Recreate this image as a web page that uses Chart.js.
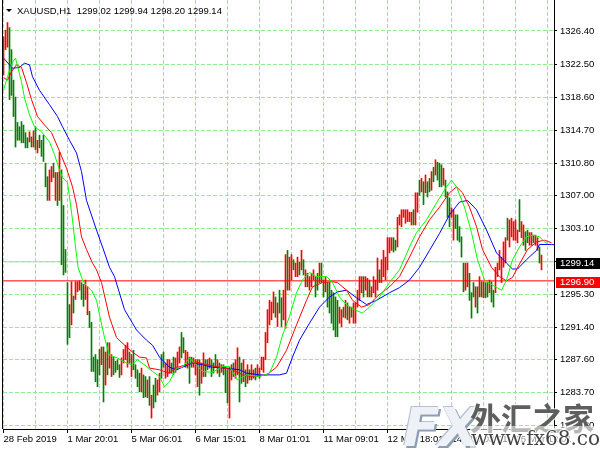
<!DOCTYPE html>
<html>
<head>
<meta charset="utf-8">
<title>XAUUSD,H1</title>
<script src="https://cdn.jsdelivr.net/npm/chart.js@4.4.1/dist/chart.umd.min.js"></script>
<style>
  html, body { margin: 0; padding: 0; background: #fff; }
  #wrap { position: relative; width: 600px; height: 450px; overflow: hidden; }
  canvas { display: block; }
  .wm { position: absolute; pointer-events: none; white-space: nowrap; line-height: 1; }
  #wmFx { left: 403px; top: 396px; font: italic bold 54px "DejaVu Sans", sans-serif; color: #eef2f7;
          text-shadow: 2px 2px 0 #8d9db4, -1px -1px 0 #b5c1d2; letter-spacing: -2px; }
  #wmCn { left: 470px; top: 394px; font: bold 31px "Noto Sans CJK SC", sans-serif; color: rgba(40,40,40,0.75);
          text-shadow: 1px 1px 0 rgba(255,255,255,0.8), -1px -1px 0 rgba(255,255,255,0.8); }
  #wmUrl { left: 470px; top: 426px; font: 20px "DejaVu Serif", serif; color: rgba(45,45,45,0.9);
           background: rgba(255,255,255,0.55); padding: 0 1px;
           text-shadow: 1px 0 0 #fff, -1px 0 0 #fff, 0 1px 0 #fff, 0 -1px 0 #fff; }
</style>
</head>
<body>
<div id="wrap">
  <canvas id="chart" width="600" height="450"></canvas>
  <div class="wm" id="wmFx">FX</div>
  <div class="wm" id="wmCn">外汇之家</div>
  <div class="wm" id="wmUrl">www.fx68.com</div>
</div>
<script>
// header info
const symbolName = 'XAUUSD,H1';
const lastOHLC = [1299.02, 1299.94, 1298.20, 1299.14];
const bidPrice = 1299.14;
const linePrice = 1296.90;

// axis labels
const priceTicks = [1326.40, 1322.50, 1318.60, 1314.70, 1310.80, 1307.00, 1303.10, 1299.20,
  1295.30, 1291.40, 1287.60, 1283.70, 1279.80];
const timeLabels = ['28 Feb 2019', '1 Mar 20:01', '5 Mar 06:01', '6 Mar 15:01', '8 Mar 01:01',
  '11 Mar 09:01', '12 Mar 18:01', '14 Mar 03:01', '15 Mar 12:01'];

// H1 bars, one per hour, oldest first
const highs = [
  1325.7, 1326.5, 1327.4, 1326.8, 1324.2, 1320.6, 1318.6, 1315.6, 1315.1, 1315.7,
  1315.3, 1314.4, 1313.8, 1314.5, 1313.9, 1314.6, 1315.1, 1313.5, 1314.1, 1313.5,
  1314.1, 1310.8, 1309.2, 1310.0, 1310.4, 1310.8, 1309.7, 1309.7, 1312.1, 1310.0,
  1305.8, 1300.6, 1296.7, 1294.1, 1296.8, 1295.1, 1296.8, 1296.8, 1296.9, 1296.7,
  1296.5, 1297.0, 1296.2, 1293.3, 1292.0, 1287.9, 1288.2, 1287.6, 1288.8, 1289.1,
  1289.1, 1288.5, 1289.6, 1289.6, 1288.2, 1287.9, 1287.4, 1287.6, 1287.0, 1287.8,
  1288.8, 1289.3, 1289.6, 1288.5, 1288.2, 1288.7, 1287.0, 1286.4, 1286.0, 1286.6,
  1285.8, 1285.6, 1285.2, 1285.6, 1283.4, 1284.6, 1285.4, 1285.2, 1286.0, 1288.2,
  1288.5, 1287.2, 1287.6, 1287.6, 1287.2, 1287.9, 1287.8, 1288.5, 1289.1, 1290.8,
  1290.2, 1288.7, 1288.5, 1287.9, 1287.9, 1287.8, 1287.6, 1287.6, 1287.6, 1287.2,
  1288.4, 1287.6, 1287.6, 1287.8, 1287.6, 1287.2, 1288.2, 1287.6, 1287.2, 1287.0,
  1287.0, 1286.7, 1286.4, 1286.7, 1287.0, 1287.2, 1287.6, 1289.0, 1287.9, 1287.2,
  1287.6, 1286.4, 1287.0, 1286.4, 1287.0, 1286.4, 1286.6, 1287.0, 1286.6, 1287.9,
  1287.9, 1290.8, 1293.5, 1294.6, 1294.4, 1295.6, 1295.0, 1294.3, 1295.8, 1294.9,
  1295.8, 1300.0, 1300.5, 1299.7, 1300.0, 1299.4, 1299.0, 1299.7, 1299.1, 1300.5,
  1299.4, 1298.2, 1297.8, 1297.4, 1297.8, 1298.2, 1297.4, 1297.8, 1299.0, 1299.0,
  1297.0, 1297.4, 1296.7, 1296.7, 1295.8, 1295.5, 1295.0, 1294.6, 1293.8, 1293.5,
  1293.8, 1294.6, 1294.3, 1293.8, 1293.8, 1294.3, 1294.3, 1295.8, 1297.4, 1297.4,
  1297.4, 1297.4, 1297.2, 1297.0, 1296.2, 1297.4, 1297.0, 1299.6, 1298.2, 1299.4,
  1300.5, 1299.7, 1302.0, 1302.0, 1302.0, 1302.0, 1301.7, 1304.4, 1304.7, 1305.3,
  1305.3, 1305.3, 1305.3, 1305.0, 1305.0, 1305.3, 1307.3, 1307.3, 1308.8, 1309.0,
  1308.6, 1309.4, 1308.6, 1309.0, 1309.8, 1310.3, 1311.2, 1310.9, 1310.8, 1310.6,
  1310.2, 1308.8, 1307.4, 1306.7, 1305.5, 1305.3, 1304.7, 1304.7, 1303.3, 1302.1,
  1299.0, 1299.0, 1299.0, 1297.8, 1295.5, 1296.7, 1296.2, 1296.2, 1297.4, 1296.8,
  1296.8, 1296.7, 1296.7, 1297.0, 1296.8, 1295.8, 1298.5, 1299.0, 1300.5, 1299.7,
  1301.5, 1302.0, 1304.3, 1304.1, 1304.3, 1303.9, 1304.1, 1302.9, 1306.5, 1303.9,
  1303.5, 1302.7, 1302.9, 1302.6, 1302.6, 1302.3, 1302.3, 1302.0, 1300.9, 1299.94
];
const lows = [
  1321.2, 1324.2, 1324.5, 1318.3, 1318.8, 1316.3, 1312.7, 1313.5, 1313.5, 1313.2,
  1313.2, 1312.6, 1312.6, 1313.3, 1312.7, 1312.7, 1312.4, 1312.0, 1312.6, 1311.6,
  1311.0, 1308.0, 1306.4, 1306.4, 1308.6, 1309.1, 1306.4, 1305.8, 1306.4, 1298.8,
  1297.6, 1297.9, 1289.4, 1290.2, 1291.7, 1293.1, 1294.7, 1295.6, 1295.8, 1294.7,
  1293.9, 1294.7, 1292.9, 1291.4, 1286.2, 1286.2, 1285.0, 1284.4, 1285.8, 1287.0,
  1282.6, 1284.6, 1285.8, 1286.6, 1285.6, 1285.8, 1286.1, 1286.4, 1285.5, 1285.8,
  1287.2, 1287.6, 1286.7, 1287.2, 1285.6, 1286.4, 1285.4, 1284.4, 1283.8, 1283.8,
  1283.1, 1283.2, 1283.1, 1282.2, 1280.7, 1281.9, 1282.6, 1283.4, 1283.8, 1285.4,
  1286.7, 1285.4, 1285.6, 1286.0, 1286.0, 1285.8, 1286.1, 1286.4, 1287.2, 1287.8,
  1288.4, 1286.7, 1286.6, 1284.8, 1286.7, 1286.7, 1285.8, 1284.4, 1283.4, 1284.8,
  1285.6, 1285.6, 1286.4, 1286.6, 1285.6, 1286.0, 1286.7, 1286.0, 1285.6, 1286.1,
  1285.8, 1283.7, 1282.5, 1280.7, 1285.2, 1285.6, 1285.4, 1285.8, 1282.6, 1284.8,
  1285.0, 1284.4, 1284.8, 1285.2, 1285.2, 1285.4, 1285.2, 1285.6, 1285.4, 1286.4,
  1286.1, 1287.6, 1289.6, 1291.7, 1292.3, 1293.1, 1292.6, 1291.5, 1293.1, 1291.5,
  1292.3, 1291.3, 1295.8, 1295.8, 1297.0, 1298.2, 1297.4, 1297.4, 1297.6, 1298.2,
  1297.6, 1296.2, 1296.2, 1295.8, 1296.2, 1297.0, 1295.0, 1295.8, 1296.7, 1296.7,
  1295.0, 1295.6, 1293.8, 1293.1, 1291.9, 1291.1, 1290.3, 1290.3, 1291.9, 1291.5,
  1292.6, 1292.5, 1292.3, 1291.9, 1292.6, 1291.9, 1291.9, 1293.8, 1294.6, 1295.5,
  1295.0, 1295.8, 1295.0, 1295.0, 1295.0, 1295.5, 1295.0, 1295.8, 1296.7, 1296.7,
  1297.4, 1297.0, 1298.2, 1300.2, 1300.5, 1300.3, 1300.5, 1300.9, 1303.5, 1303.3,
  1304.4, 1303.7, 1303.9, 1303.9, 1303.5, 1303.5, 1303.5, 1305.0, 1307.0, 1307.4,
  1305.9, 1307.3, 1306.8, 1307.4, 1307.6, 1308.6, 1309.4, 1308.8, 1308.0, 1308.0,
  1308.2, 1306.8, 1304.4, 1303.3, 1304.4, 1301.7, 1303.1, 1301.7, 1301.5, 1299.7,
  1295.6, 1295.8, 1296.2, 1294.6, 1292.5, 1295.0, 1293.8, 1293.1, 1295.0, 1295.0,
  1294.9, 1294.9, 1295.0, 1295.5, 1294.4, 1293.8, 1295.5, 1297.4, 1298.2, 1296.7,
  1298.5, 1299.0, 1301.7, 1300.9, 1302.1, 1301.7, 1301.7, 1301.4, 1302.7, 1302.0,
  1301.1, 1300.5, 1301.4, 1301.1, 1301.1, 1301.4, 1301.1, 1300.5, 1299.0, 1298.20
];
// r = bar closed up (red), g = bar closed down (green)
const barDir = [
  'rrrggggggg', 'gggrgrgrgg', 'gggrrgrgrg', 'ggggrgrrrg', 'grrggggggr',
  'grgrrggggr', 'rrrgrggggr', 'ggrgrggrrg', 'grrrggrrrg', 'grrggrrrgr',
  'rggrgggrgr', 'gggrrgrrgg', 'rgrgrrgrrr', 'rrrrrrgrgg', 'rrgrrgrrgr',
  'grgrrrggrg', 'grggggggrr', 'grgrgrrrrr', 'grrgrrrrgr', 'rrrrrggrrr',
  'rrrrrgrrgr', 'grggrgrggg', 'rgggrrgggg', 'grrgggrgrg', 'rggrggrrrr',
  'rrgrrrrrgr', 'rggrrgrrgr'
].join('');

// Alligator lines (bar index, price)
const jawIdx = [0, 4.5, 8, 10.5, 13, 14.5, 18, 23, 27, 29.5, 33, 36.5, 39, 41.5, 46.5, 49.5, 53, 55.5,
  60.5, 66.5, 71.5, 74.5, 78, 83, 86.5, 94.5, 99.5, 104.5, 111.5, 118, 121.5, 128, 138, 141.5, 144.5,
  148, 153, 158, 163, 167, 171.5, 176.5, 181.5, 186.5, 193, 198, 203, 208, 213, 218, 223, 228, 232,
  236.5, 241.5, 246.5, 251.5, 254.5, 257, 261.5, 266.5, 268, 274, 277];
const jawVal = [1323.2, 1322.0, 1322.1, 1322.6, 1322.4, 1321.0, 1319.4, 1317.7, 1316.3, 1315.1,
  1313.5, 1312.0, 1309.8, 1306.4, 1302.9, 1300.9, 1298.5, 1297.4, 1293.5, 1291.1,
  1289.9, 1289.3, 1287.9, 1286.7, 1286.4, 1287.2, 1287.0, 1286.7, 1286.6, 1286.4,
  1286.0, 1285.8, 1285.8, 1286.0, 1287.9, 1289.9, 1291.9, 1293.8, 1295.0, 1295.6,
  1295.8, 1294.9, 1294.1, 1294.6, 1295.5, 1296.1, 1297.0, 1298.5, 1300.5, 1302.5,
  1304.7, 1306.2, 1306.4, 1305.3, 1302.9, 1300.2, 1299.0, 1298.3, 1298.3, 1299.4,
  1300.5, 1301.2, 1301.2, 1301.1];

const teethIdx = [0, 2, 4, 6.5, 9, 11.5, 14, 17, 20.5, 24, 28, 31.5, 34.5, 36.5, 39, 41.5, 44.5, 46.5,
  49, 53, 56.5, 61.5, 65, 68, 71.5, 73, 78, 83, 85.5, 91.5, 96.5, 101.5, 108, 114.5, 119.5, 124.5,
  131.5, 136.5, 141.5, 146.5, 151.5, 154.5, 159.5, 164.5, 167, 171.5, 174.5, 179, 183, 186.5, 193,
  198, 203, 208, 213, 218, 223, 226.5, 229.5, 233, 236.5, 239.5, 244, 248, 251.5, 254.5, 258, 262,
  266.5, 270.5, 274];
const teethVal = [1320.9, 1320.6, 1321.6, 1322.4, 1322.1, 1320.3, 1318.3, 1316.3, 1315.3, 1314.4,
  1312.2, 1310.2, 1308.0, 1305.9, 1302.1, 1300.6, 1299.0, 1298.2, 1296.7, 1292.6,
  1290.2, 1289.1, 1288.4, 1287.9, 1287.8, 1286.6, 1286.4, 1286.0, 1286.6, 1287.0,
  1287.3, 1287.0, 1286.7, 1286.4, 1285.8, 1285.6, 1285.8, 1286.7, 1288.7, 1291.7,
  1294.6, 1296.2, 1296.7, 1296.8, 1296.7, 1295.8, 1294.6, 1293.8, 1294.1, 1295.0,
  1296.2, 1297.4, 1299.7, 1302.1, 1304.1, 1305.6, 1307.3, 1308.0, 1307.3, 1305.6,
  1303.3, 1300.6, 1298.5, 1297.4, 1296.9, 1297.3, 1298.9, 1300.6, 1301.5, 1301.7,
  1301.4];

const lipsIdx = [0, 2, 4.5, 6, 9, 10.5, 13, 15.5, 19, 23, 25.5, 28, 29.5, 32, 33, 34.5, 36, 37.3,
  39.5, 41.5, 44, 46.5, 48, 50.5, 53, 57, 61.5, 64, 67, 71.5, 74.5, 78, 80.5, 83, 86.5, 89.5, 93,
  95.5, 99.5, 104.5, 109.5, 113, 117, 121.5, 128, 133, 136.5, 139.5, 143, 146.5, 149.5, 153, 156.5,
  161.5, 164.5, 168, 171.5, 175.5, 179.5, 183, 188, 193, 198, 203, 206.5, 211.5, 216.5, 221.5, 224,
  226.5, 230.5, 234, 237, 240.5, 244.5, 249, 251.5, 254.5, 258, 261.5, 264.5, 268, 270.5, 272];
const lipsVal = [1319.4, 1321.0, 1322.7, 1323.2, 1320.4, 1318.5, 1316.5, 1315.1, 1314.5, 1313.3,
  1311.8, 1310.0, 1309.1, 1308.5, 1306.8, 1304.1, 1300.9, 1298.5, 1297.0, 1296.3,
  1295.8, 1294.6, 1292.9, 1290.2, 1288.1, 1287.8, 1287.2, 1287.0, 1287.6, 1286.8,
  1286.2, 1285.6, 1284.4, 1285.0, 1286.6, 1286.7, 1287.8, 1287.2, 1286.2, 1286.1,
  1286.8, 1286.8, 1285.2, 1285.8, 1285.6, 1286.0, 1287.9, 1290.5, 1292.7, 1295.5,
  1297.0, 1297.9, 1297.4, 1297.4, 1296.7, 1295.0, 1294.1, 1293.5, 1293.1, 1293.8,
  1295.0, 1296.7, 1298.2, 1300.9, 1302.6, 1304.1, 1306.1, 1308.0, 1308.8, 1308.0,
  1305.6, 1302.6, 1299.4, 1297.0, 1296.4, 1295.8, 1297.0, 1299.4, 1300.9, 1302.1,
  1302.3, 1302.1, 1301.5, 1301.3];

const FONT = "'Liberation Sans', Arial, sans-serif";
const FONT_SIZE = 9.5;
const GRID = '#90ee90';
const X_MIN = -0.25, X_MAX = 275.25;

function zip(idx, vals) { return idx.map((x, k) => ({x, y: vals[k]})); }

const barData = highs.map((h, i) => ({x: i, y: [lows[i], h]}));
const barColors = barDir.split('').map(d => d === 'r' ? '#ff0000' : '#008000');

// price boxes, left border and the top-left caption
const overlay = {
  id: 'overlay',
  afterDraw(chart) {
    const {ctx, chartArea, scales: {y}} = chart;
    ctx.save();
    ctx.strokeStyle = '#000';
    ctx.lineWidth = 1;
    ctx.beginPath();
    ctx.moveTo(chartArea.left - 0.5, 0);
    ctx.lineTo(chartArea.left - 0.5, chartArea.bottom);
    ctx.stroke();

    ctx.font = FONT_SIZE + 'px ' + FONT;
    ctx.textBaseline = 'middle';
    [[bidPrice, '#000000'], [linePrice, '#ff0000']].forEach(([p, bg]) => {
      const py = Math.round(y.getPixelForValue(p));
      ctx.fillStyle = bg;
      ctx.fillRect(556, py - 4, 44, 11);
      ctx.fillStyle = '#fff';
      ctx.fillText(p.toFixed(2), 560, py + 1.5);
    });

    ctx.fillStyle = '#000';
    ctx.beginPath();
    ctx.moveTo(6, 9); ctx.lineTo(12, 9); ctx.lineTo(9, 12); ctx.closePath();
    ctx.fill();
    ctx.fillText(symbolName + '  ' + lastOHLC.map(v => v.toFixed(2)).join(' '), 17, 11);
    ctx.restore();
  }
};

Chart.defaults.font.family = FONT;
Chart.defaults.font.size = FONT_SIZE;
Chart.defaults.color = '#000';

new Chart(document.getElementById('chart'), {
  type: 'bar',
  data: {
    datasets: [
      { type: 'line', data: zip(lipsIdx, lipsVal), borderColor: '#00ff00', borderWidth: 1, pointRadius: 0, tension: 0, order: 1 },
      { type: 'line', data: zip(teethIdx, teethVal), borderColor: '#ff0000', borderWidth: 1, pointRadius: 0, tension: 0, order: 2 },
      { type: 'line', data: zip(jawIdx, jawVal), borderColor: '#0000ff', borderWidth: 1, pointRadius: 0, tension: 0, order: 3 },
      { type: 'line', data: [{x: X_MIN, y: linePrice}, {x: X_MAX, y: linePrice}], borderColor: '#ff0000', borderWidth: 1, pointRadius: 0, order: 4 },
      { type: 'line', data: [{x: X_MIN, y: bidPrice}, {x: X_MAX, y: bidPrice}], borderColor: GRID, borderWidth: 1, pointRadius: 0, order: 6 },
      { type: 'bar', data: barData, backgroundColor: barColors, barThickness: 1, borderWidth: 0, grouped: false, order: 5 }
    ]
  },
  options: {
    responsive: false,
    animation: false,
    events: [],
    layout: { padding: { left: 3, top: 0, right: 0, bottom: 0 } },
    plugins: { legend: { display: false }, tooltip: { enabled: false } },
    scales: {
      x: {
        type: 'linear',
        min: X_MIN,
        max: X_MAX,
        offset: false,
        afterBuildTicks: s => {
          const t = [];
          for (let v = 0; v <= 272; v += 16) t.push({value: v});
          s.ticks = t;
        },
        afterFit: s => { s.height = 21; s.paddingLeft = 0; s.paddingRight = 0; },
        grid: {
          offset: false,
          color: GRID,
          tickLength: 4,
          tickColor: c => (c.index % 2 === 0 ? '#000' : 'rgba(0,0,0,0)'),
          tickBorderDash: []
        },
        border: { color: '#000', width: 1, dash: [4, 2] },
        ticks: {
          autoSkip: false,
          maxRotation: 0,
          align: 'start',
          padding: 1,
          callback: v => (v % 32 === 0 ? timeLabels[v / 32] : '')
        }
      },
      y: {
        position: 'right',
        min: 1279.41,
        max: 1330.06,
        afterBuildTicks: s => { s.ticks = priceTicks.map(v => ({value: v})); },
        afterFit: s => { s.width = 46; s.paddingTop = 0; s.paddingBottom = 0; },
        grid: { color: GRID, tickLength: 3, tickColor: '#000', tickBorderDash: [] },
        border: { color: '#000', width: 1, dash: [4, 2] },
        ticks: {
          padding: 3,
          callback: v => (Math.abs(v - 1299.2) < 0.01 ? '' : v.toFixed(2))
        }
      }
    }
  },
  plugins: [overlay]
});
</script>
</body>
</html>
